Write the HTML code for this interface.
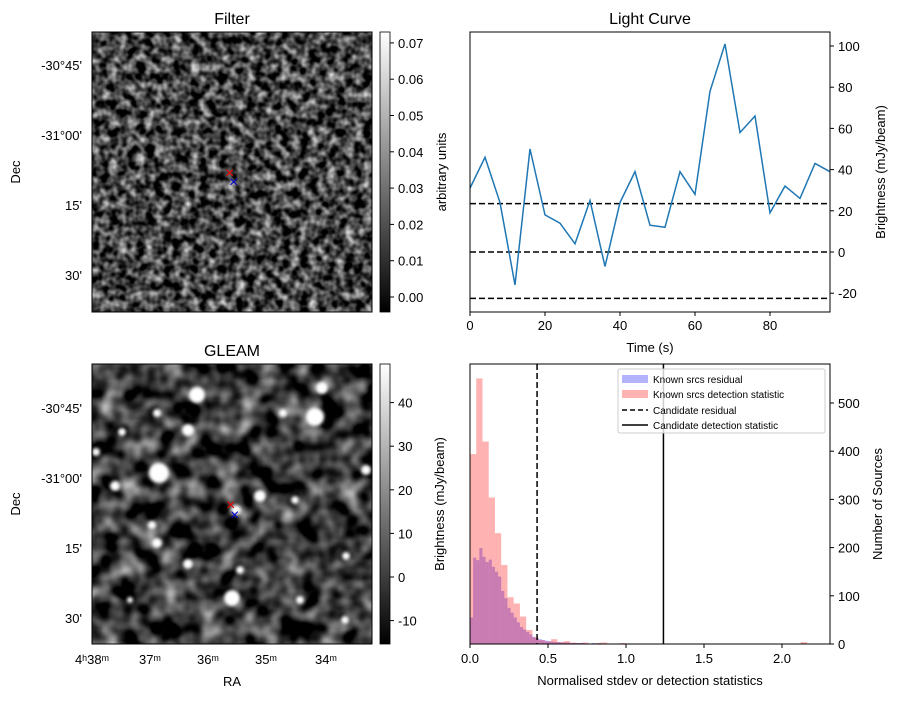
<!DOCTYPE html>
<html><head><meta charset="utf-8"><style>
body{margin:0;background:#fff;}
svg text{font-family:"Liberation Sans","DejaVu Sans",sans-serif;fill:#000;}
</style></head><body>
<svg id="fig" width="898" height="699" viewBox="0 0 898 699" xmlns="http://www.w3.org/2000/svg">
<defs>
<filter id="noiseA" x="0" y="0" width="100%" height="100%" color-interpolation-filters="sRGB">
<feTurbulence type="fractalNoise" baseFrequency="0.11" numOctaves="2" seed="3"/>
<feColorMatrix type="matrix" values="1.5 0 0 0 -0.48  1.5 0 0 0 -0.48  1.5 0 0 0 -0.48  0 0 0 0 1"/>
</filter>
<filter id="noiseB" x="0" y="0" width="100%" height="100%" color-interpolation-filters="sRGB">
<feTurbulence type="fractalNoise" baseFrequency="0.05" numOctaves="2" seed="7"/>
<feColorMatrix type="matrix" values="1.4 0 0 0 -0.47  1.4 0 0 0 -0.47  1.4 0 0 0 -0.47  0 0 0 0 1"/>
</filter>
<filter id="blur"><feGaussianBlur stdDeviation="1.5"/></filter>
<linearGradient id="gray" x1="0" y1="1" x2="0" y2="0"><stop offset="0" stop-color="#000"/><stop offset="1" stop-color="#fff"/></linearGradient>
<clipPath id="clipB"><rect x="92" y="364" width="280" height="280"/></clipPath>
</defs>

<text x="232" y="24" font-size="16" text-anchor="middle">Filter</text>
<rect x="92" y="32" width="280" height="280" fill="#333" filter="url(#noiseA)"/>
<rect x="92" y="32" width="280" height="280" fill="none" stroke="#000"/>
<text x="225" y="178" font-size="16" style="fill:#e00">×</text>
<text x="229" y="187" font-size="16" style="fill:#00c">×</text>
<g font-size="13" text-anchor="end">
<text x="82" y="70">-30°45'</text><text x="82" y="140">-31°00'</text><text x="82" y="210">15'</text><text x="82" y="280">30'</text>
</g>
<text x="20" y="172" font-size="13" transform="rotate(-90 20 172)" text-anchor="middle">Dec</text>
<rect x="380" y="32" width="10" height="280" fill="url(#gray)" stroke="#000" stroke-width="0.8"/>
<g id="cbA" font-size="13"></g>
<text x="446" y="172" font-size="13" transform="rotate(-90 446 172)" text-anchor="middle">arbitrary units</text>

<text x="232" y="356" font-size="16" text-anchor="middle">GLEAM</text>
<g clip-path="url(#clipB)">
<rect x="92" y="364" width="280" height="280" fill="#222" filter="url(#noiseB)"/>
<g id="blobs" fill="#fff" filter="url(#blur)"></g>
</g>
<rect x="92" y="364" width="280" height="280" fill="none" stroke="#000"/>
<text x="226" y="510" font-size="16" style="fill:#e00">×</text>
<text x="230" y="520" font-size="16" style="fill:#00c">×</text>
<g font-size="13" text-anchor="end">
<text x="82" y="413">-30°45'</text><text x="82" y="483">-31°00'</text><text x="82" y="553">15'</text><text x="82" y="623">30'</text>
</g>
<text x="20" y="504" font-size="13" transform="rotate(-90 20 504)" text-anchor="middle">Dec</text>
<g font-size="13" text-anchor="middle">
<text x="92" y="664">4ʰ38ᵐ</text><text x="150" y="664">37ᵐ</text><text x="208" y="664">36ᵐ</text><text x="266" y="664">35ᵐ</text><text x="326" y="664">34ᵐ</text>
</g>
<text x="232" y="686" font-size="13" text-anchor="middle">RA</text>
<rect x="380" y="364" width="10" height="280" fill="url(#gray)" stroke="#000" stroke-width="0.8"/>
<g id="cbB" font-size="13"></g>

<text x="650" y="24" font-size="16" text-anchor="middle">Light Curve</text>
<g id="lc"></g>
<rect x="470" y="32" width="360" height="280" fill="none" stroke="#000"/>
<text x="650" y="352" font-size="13" text-anchor="middle">Time (s)</text>
<text x="885" y="172" font-size="13" transform="rotate(-90 885 172)" text-anchor="middle">Brightness (mJy/beam)</text>

<g id="hist"></g>
<rect x="470" y="364" width="360" height="280" fill="none" stroke="#000"/>
<text x="650" y="685" font-size="13" text-anchor="middle">Normalised stdev or detection statistics</text>
<text x="444" y="504" font-size="13" transform="rotate(-90 444 504)" text-anchor="middle">Brightness (mJy/beam)</text>
<text x="882" y="504" font-size="13" transform="rotate(-90 882 504)" text-anchor="middle">Number of Sources</text>
<g font-size="10">
<rect x="618" y="369" width="207" height="64" fill="#fff" fill-opacity="0.8" stroke="#ccc" rx="2"/>
<rect x="622" y="375" width="26" height="8" fill="#0000ff" fill-opacity="0.3"/><text x="653" y="383">Known srcs residual</text>
<rect x="622" y="390" width="26" height="8" fill="#ff0000" fill-opacity="0.3"/><text x="653" y="398">Known srcs detection statistic</text>
<line x1="622" y1="410" x2="648" y2="410" stroke="#000" stroke-width="1.5" stroke-dasharray="5,3"/><text x="653" y="414">Candidate residual</text>
<line x1="622" y1="425" x2="648" y2="425" stroke="#000" stroke-width="1.5"/><text x="653" y="429">Candidate detection statistic</text>
</g>
</svg>
<script>
const NS='http://www.w3.org/2000/svg';
function mk(tag,attrs,parent){const e=document.createElementNS(NS,tag);for(const k in attrs)e.setAttribute(k,attrs[k]);parent.appendChild(e);return e;}

const lcTimes=[0,4,8,12,16,20,24,28,32,36,40,44,48,52,56,60,64,68,72,76,80,84,88,92,96];
const lcFlux=[31,46,24,-16,50,18,14,4,25,-7,24,39,13,12,39,28,78,101,58,66,19,32,26,43,39];
const lcThresholds=[23.5,0,-22.5];
const lcXTicks=[0,20,40,60,80];
const lcYTicks=[-20,0,20,40,60,80,100];
const binStart=0.0;
const redBinWidth=0.04;
const redCounts=[394,551,420,304,230,164,97,84,57,29,14,8,5,10,4,6,3,2,3,1,2,3,1,1,2,0,0,0,0,0,0,0,0,0,0,0,0,0,0,0,0,0,0,0,0,0,0,0,0,0,0,0,0,4];
const blueBinWidth=0.02;
const blueCounts=[55,179,174,199,181,170,175,160,150,140,110,95,75,65,55,45,35,30,25,20,15,12,10,8,7,6,5,4,4,3,3,3,2,2,2,2,2,1,1,2,1,2,1,1,1];
const candResidual=0.43;
const candDetection=1.24;
const histXTicks=[0.0,0.5,1.0,1.5,2.0];
const histYTicks=[0,100,200,300,400,500];
const cbAValues=[0.00,0.01,0.02,0.03,0.04,0.05,0.06,0.07];
const cbBValues=[-10,0,10,20,30,40];
const blobs=[[197,395,8],[315,417,9],[159,473,10],[322,388,6],[188,430,6],[260,496,6],[115,486,5],[157,543,5],[232,598,8],[188,564,5],[152,525,4],[240,570,4],[366,470,5],[122,432,4],[283,413,4],[346,556,4],[295,500,4],[157,413,4],[96,452,4],[236,510,5],[300,600,4],[130,600,3],[345,620,4]];

const lx=t=>470+t*360/96, ly=v=>252-v*2.06;
const hx=v=>470+v*156, hy=c=>644-c*0.482;
const cbAy=v=>297-v*3630, cbBy=v=>577-v*4.36;

const lc=document.getElementById('lc');
lcThresholds.forEach(v=>{const l=mk('line',{x1:470,x2:830,y1:ly(v),y2:ly(v),stroke:'#000','stroke-width':1.5,'stroke-dasharray':'6,3'},lc);

});
const pl=mk('polyline',{points:lcTimes.map((t,i)=>lx(t)+','+ly(lcFlux[i])).join(' '),fill:'none',stroke:'#1f77b4','stroke-width':1.5},lc);


lcXTicks.forEach(t=>{mk('line',{x1:lx(t),x2:lx(t),y1:312,y2:316,stroke:'#000'},lc);const tx=mk('text',{x:lx(t),y:330,'font-size':13,'text-anchor':'middle'},lc);tx.textContent=t;

});
lcYTicks.forEach(v=>{mk('line',{x1:830,x2:834,y1:ly(v),y2:ly(v),stroke:'#000'},lc);const tx=mk('text',{x:838,y:ly(v)+5,'font-size':13},lc);tx.textContent=v;

});

const h=document.getElementById('hist');
blueCounts.forEach((c,i)=>{const r=mk('rect',{x:hx(binStart+i*blueBinWidth),width:blueBinWidth*156,y:hy(c),height:c*0.482,fill:'#0000ff','fill-opacity':0.3},h);

});
redCounts.forEach((c,i)=>{if(!c)return;const r=mk('rect',{x:hx(binStart+i*redBinWidth),width:redBinWidth*156,y:hy(c),height:c*0.482,fill:'#ff0000','fill-opacity':0.3},h);

});
const l1=mk('line',{x1:hx(candResidual),x2:hx(candResidual),y1:364,y2:644,stroke:'#000','stroke-width':1.5,'stroke-dasharray':'6,3'},h);


const l2=mk('line',{x1:hx(candDetection),x2:hx(candDetection),y1:364,y2:644,stroke:'#000','stroke-width':1.5},h);


histXTicks.forEach(v=>{mk('line',{x1:hx(v),x2:hx(v),y1:644,y2:648,stroke:'#000'},h);const tx=mk('text',{x:hx(v),y:663,'font-size':13,'text-anchor':'middle'},h);tx.textContent=v.toFixed(1);

});
histYTicks.forEach(v=>{mk('line',{x1:830,x2:834,y1:hy(v),y2:hy(v),stroke:'#000'},h);const tx=mk('text',{x:838,y:hy(v)+5,'font-size':13},h);tx.textContent=v;

});

const ca=document.getElementById('cbA');
cbAValues.forEach(v=>{mk('line',{x1:390,x2:394,y1:cbAy(v),y2:cbAy(v),stroke:'#000'},ca);const tx=mk('text',{x:398,y:cbAy(v)+5},ca);tx.textContent=v.toFixed(2);

});
const cb=document.getElementById('cbB');
cbBValues.forEach(v=>{mk('line',{x1:390,x2:394,y1:cbBy(v),y2:cbBy(v),stroke:'#000'},cb);const tx=mk('text',{x:398,y:cbBy(v)+5},cb);tx.textContent=v;

});
const bg=document.getElementById('blobs');
blobs.forEach(b=>{const c=mk('circle',{cx:b[0],cy:b[1],r:b[2]},bg);

});
</script>
</body></html>
